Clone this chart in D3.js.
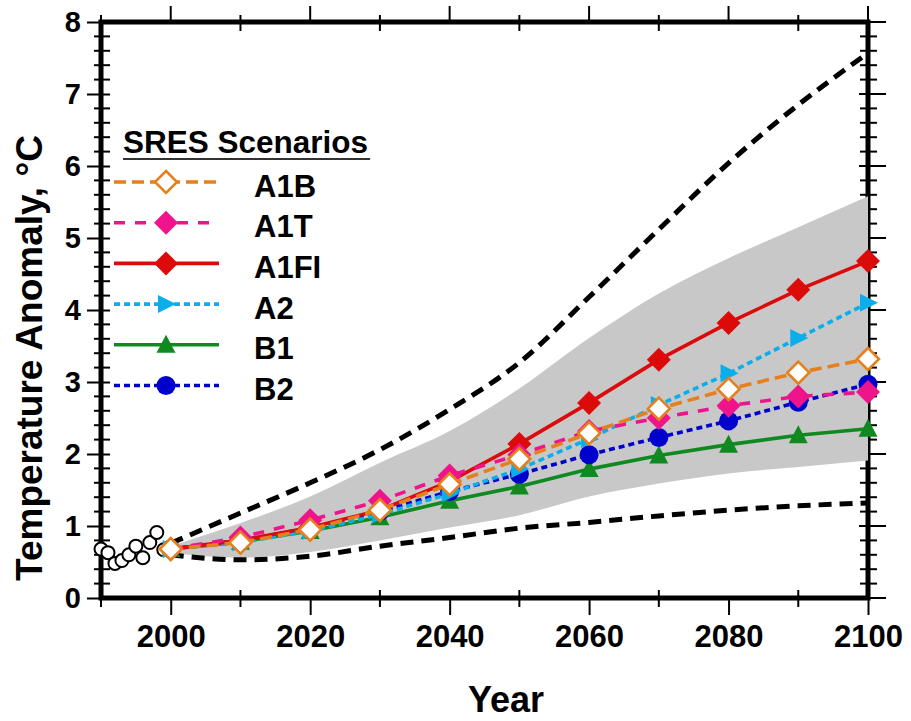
<!DOCTYPE html>
<html>
<head>
<meta charset="utf-8">
<script src="https://cdn.jsdelivr.net/npm/d3@7"></script>
<style>
  html, body { margin: 0; padding: 0; background: #fff; }
  svg { display: block; font-family: "Liberation Sans", Arial, sans-serif; font-weight: bold; }
</style>
</head>
<body>
<svg id="chart" width="911" height="721"></svg>
<script>
// Decades of the SRES projections
const years = [2000, 2010, 2020, 2030, 2040, 2050, 2060, 2070, 2080, 2090, 2100];

// Scenario mean temperature anomalies (°C)
const a1b  = [0.68, 0.77, 0.95, 1.22, 1.58, 1.93, 2.29, 2.63, 2.90, 3.13, 3.32];
const a1t  = [0.68, 0.84, 1.08, 1.35, 1.70, 1.99, 2.32, 2.50, 2.67, 2.80, 2.86];
const a1fi = [0.68, 0.80, 0.98, 1.22, 1.62, 2.14, 2.71, 3.31, 3.82, 4.28, 4.68];
const a2   = [0.68, 0.77, 0.93, 1.16, 1.45, 1.79, 2.21, 2.68, 3.12, 3.61, 4.10];
const b1   = [0.68, 0.78, 0.93, 1.12, 1.35, 1.55, 1.79, 1.98, 2.13, 2.26, 2.35];
const b2   = [0.68, 0.80, 0.97, 1.20, 1.48, 1.72, 1.99, 2.23, 2.46, 2.72, 2.97];

// Shaded model range of all scenarios
const bandUpper = [0.72, 1.04, 1.41, 1.88, 2.32, 2.91, 3.61, 4.23, 4.72, 5.15, 5.58];
const bandLower = [0.62, 0.56, 0.64, 0.80, 0.98, 1.15, 1.41, 1.59, 1.73, 1.82, 1.91];

// Full envelope (dashed black)
const envUpper = [0.76, 1.18, 1.60, 2.06, 2.62, 3.27, 4.18, 5.12, 6.04, 6.85, 7.57];
const envLower = [0.60, 0.53, 0.58, 0.72, 0.84, 0.97, 1.05, 1.14, 1.22, 1.28, 1.32];

// Observed anomalies 1990-1999
const obsYears  = [1990, 1991, 1992, 1993, 1994, 1995, 1996, 1997, 1998, 1999];
const obsValues = [0.68, 0.63, 0.48, 0.52, 0.60, 0.72, 0.56, 0.77, 0.91, 0.67];

// Axis ticks
const yTicks = [0, 1, 2, 3, 4, 5, 6, 7, 8];
const yMinorTicks = d3.range(0, 40).map(i => i * 0.2).filter(v => Math.abs(v - Math.round(v)) > 1e-6);
const xTicks = [2000, 2020, 2040, 2060, 2080, 2100];
const xMinorTicks = [1990, 2010, 2030, 2050, 2070, 2090];

const legendTitle = "SRES Scenarios";
const seriesNames = ["A1B", "A1T", "A1FI", "A2", "B1", "B2"];
const seriesValues = [a1b, a1t, a1fi, a2, b1, b2];

// Drawing style for each scenario
const styles = {
  A1B:  { color: "#E5801C", dash: "12,6", marker: "diamondOpen" },
  A1T:  { color: "#F0148C", dash: "11,10", marker: "diamond" },
  A1FI: { color: "#DD0A0A", dash: null,   marker: "diamond" },
  A2:   { color: "#0AAEEA", dash: "6,4",  marker: "triRight" },
  B1:   { color: "#108A20", dash: null,   marker: "triUp" },
  B2:   { color: "#0000CC", dash: "6,4",  marker: "circle" }
};
// Back-to-front drawing order
const drawOrder = ["B1", "B2", "A2", "A1FI", "A1T", "A1B"];

const svg = d3.select("#chart");
const x = d3.scaleLinear().domain([1990, 2100]).range([101, 868]);
const y = d3.scaleLinear().domain([0, 8]).range([598, 22]);

const x0 = x.range()[0], x1 = x.range()[1];
const y0 = y.range()[0], y1 = y.range()[1];

// ---- frame and ticks ----
const tickG = svg.append("g").attr("stroke", "#000").attr("stroke-width", 2);
// left / right minor
yMinorTicks.forEach(v => {
  tickG.append("line").attr("x1", x0 - 7).attr("x2", x0 + 9).attr("y1", y(v)).attr("y2", y(v));
  tickG.append("line").attr("x1", x1 - 8).attr("x2", x1 + 9).attr("y1", y(v)).attr("y2", y(v));
});
// right major
yTicks.forEach(v => {
  tickG.append("line").attr("x1", x1 - 9).attr("x2", x1 + 18).attr("y1", y(v)).attr("y2", y(v));
});
// top major / minor
xTicks.forEach(v => {
  tickG.append("line").attr("x1", x(v)).attr("x2", x(v)).attr("y1", y1 - 16).attr("y2", y1);
});
xMinorTicks.forEach(v => {
  tickG.append("line").attr("x1", x(v)).attr("x2", x(v)).attr("y1", y1 - 7).attr("y2", y1 + 9);
  tickG.append("line").attr("x1", x(v)).attr("x2", x(v)).attr("y1", y0 - 8).attr("y2", y0 + 9);
});

// Left axis with labels
const leftAxis = svg.append("g")
  .attr("transform", `translate(${x0},0)`)
  .call(d3.axisLeft(y).tickValues(yTicks).tickFormat(d3.format("d"))
        .tickSizeInner(14).tickSizeOuter(0).tickPadding(6));
leftAxis.select(".domain").remove();
leftAxis.selectAll(".tick line").attr("x1", 9).attr("stroke-width", 2);
leftAxis.selectAll(".tick text")
  .attr("font-size", 29).attr("font-family", "Liberation Sans, Arial, sans-serif")
  .attr("font-weight", "bold").attr("fill", "#000");

// Bottom axis with labels
const bottomAxis = svg.append("g")
  .attr("transform", `translate(0,${y0})`)
  .call(d3.axisBottom(x).tickValues(xTicks).tickFormat(d3.format("d"))
        .tickSizeInner(17).tickSizeOuter(0).tickPadding(10));
bottomAxis.select(".domain").remove();
bottomAxis.selectAll(".tick line").attr("stroke-width", 2);
bottomAxis.selectAll(".tick text")
  .attr("font-size", 31).attr("font-family", "Liberation Sans, Arial, sans-serif")
  .attr("font-weight", "bold").attr("fill", "#000");

// Heavy plot frame
svg.append("rect")
  .attr("x", x0).attr("y", y1).attr("width", x1 - x0).attr("height", y0 - y1)
  .attr("fill", "none").attr("stroke", "#000").attr("stroke-width", 5);

// ---- data layers ----
const idx = d3.range(years.length);

// shaded range
svg.append("path")
  .datum(idx)
  .attr("fill", "#C8C8C8")
  .attr("d", d3.area()
    .x(i => x(years[i]))
    .y0(i => y(bandLower[i]))
    .y1(i => y(bandUpper[i]))
    .curve(d3.curveMonotoneX));

// dashed envelope
[envUpper, envLower].forEach(arr => {
  svg.append("path")
    .datum(idx)
    .attr("fill", "none").attr("stroke", "#000").attr("stroke-width", 5)
    .attr("stroke-dasharray", "13,8")
    .attr("d", d3.line().x(i => x(years[i])).y(i => y(arr[i])).curve(d3.curveMonotoneX));
});

// observations
svg.append("g").selectAll("circle")
  .data(obsYears.map((yr, i) => [yr, obsValues[i]]))
  .join("circle")
  .attr("cx", d => x(d[0])).attr("cy", d => y(d[1])).attr("r", 6.5)
  .attr("fill", "#fff").attr("stroke", "#000").attr("stroke-width", 2);

// marker shapes
function markerPath(kind) {
  switch (kind) {
    case "diamond": return "M0,-12L12,0L0,12L-12,0Z";
    case "diamondOpen": return "M0,-11L11,0L0,11L-11,0Z";
    case "triRight": return "M-8,-9L10,0L-8,9Z";
    case "triUp": return "M0,-10L9.5,8L-9.5,8Z";
    default: return null;
  }
}
function drawMarker(g, kind, color, cx, cy) {
  if (kind === "circle") {
    g.append("circle").attr("cx", cx).attr("cy", cy).attr("r", 9.5).attr("fill", color);
  } else if (kind === "diamondOpen") {
    g.append("path").attr("d", markerPath(kind)).attr("transform", `translate(${cx},${cy})`)
      .attr("fill", "#fff").attr("stroke", color).attr("stroke-width", 2.6);
  } else {
    g.append("path").attr("d", markerPath(kind)).attr("transform", `translate(${cx},${cy})`)
      .attr("fill", color);
  }
}

const line = d3.line();
drawOrder.forEach(name => {
  const vals = seriesValues[seriesNames.indexOf(name)];
  const st = styles[name];
  const g = svg.append("g");
  g.append("path")
    .datum(idx)
    .attr("fill", "none").attr("stroke", st.color).attr("stroke-width", 3.6)
    .attr("stroke-dasharray", st.dash)
    .attr("d", line.x(i => x(years[i])).y(i => y(vals[i])));
  idx.forEach(i => drawMarker(g, st.marker, st.color, x(years[i]), y(vals[i])));
});

// ---- legend ----
const lg = svg.append("g");
const titleText = lg.append("text").attr("x", 123).attr("y", 153)
  .attr("font-size", 31.5).text(legendTitle);
const titleWidth = titleText.node().getComputedTextLength();
lg.append("line").attr("x1", 123).attr("x2", 123 + titleWidth + 2).attr("y1", 159).attr("y2", 159)
  .attr("stroke", "#333").attr("stroke-width", 2);
seriesNames.forEach((name, k) => {
  const st = styles[name];
  const cy = 182 + 40.7 * k;
  lg.append("line").attr("x1", 114).attr("x2", 219).attr("y1", cy).attr("y2", cy)
    .attr("stroke", st.color).attr("stroke-width", 3.6).attr("stroke-dasharray", st.dash);
  drawMarker(lg, st.marker, st.color, 166, cy);
  lg.append("text").attr("x", 254).attr("y", cy + 14.5)
    .attr("font-size", 31).text(name);
});

// ---- axis titles ----
svg.append("text")
  .attr("x", 506).attr("y", 712).attr("text-anchor", "middle")
  .attr("font-size", 36).text("Year");
svg.append("text")
  .attr("transform", "translate(42,358) rotate(-90)")
  .attr("text-anchor", "middle")
  .attr("font-size", 37).text("Temperature Anomaly, °C");
</script>
</body>
</html>
